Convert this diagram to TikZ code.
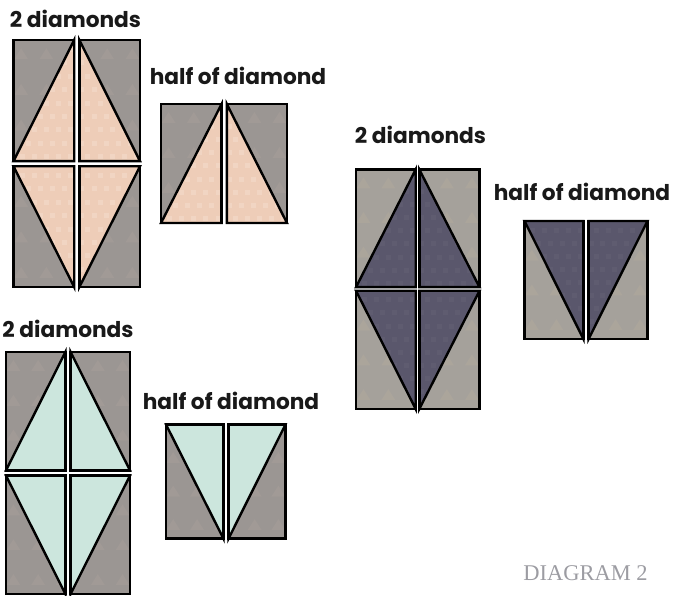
\documentclass[tikz,border=0pt]{standalone}
\usepackage{xcolor}
\usepackage{fontspec}
\setmainfont{Liberation Serif}
\newfontfamily\labelfont{Poppins}
\definecolor{peach}{RGB}{238,205,184}
\definecolor{peachdot}{RGB}{241,213,195}
\definecolor{mint}{RGB}{204,230,221}
\definecolor{mintdot}{RGB}{204,230,221}
\definecolor{ink}{RGB}{90,87,108}
\definecolor{inkdot}{RGB}{95,92,112}
\definecolor{stone}{RGB}{155,150,147}
\definecolor{stonedot}{RGB}{161,154,150}
\definecolor{pebble}{RGB}{165,161,155}
\definecolor{pebbledot}{RGB}{171,165,155}
\definecolor{caption}{RGB}{156,156,162}
% one patch: outer x, inner x, far y, near y, fabric, ground
\newcommand{\patch}[6]{
  \begin{scope}
    \clip (#1,#3) rectangle (#2,#4);
    \fill[#6] (#1,#3) rectangle (#2,#4);
    \foreach \tx in {0,...,3}
      \foreach \ty in {0,...,5}
        \fill[#6dot] ({#1+(#2-#1)*(\tx+0.3)/2.4},{#3+(#4-#3)*(\ty+0.4)/3.4}) ++(-7,5) -- ++(14,0) -- ++(-7,-11) -- cycle;
  \end{scope}
  \begin{scope}
    \clip (#2,#3) -- (#1,#4) -- (#2,#4) -- cycle;
    \fill[#5] (#1,#3) rectangle (#2,#4);
    \foreach \tx in {0,...,5}
      \foreach \ty in {0,...,9}
        \fill[#5dot] ({#1+(#2-#1)*(\tx+0.5+0.5*mod(\ty,2))/5},{#3+(#4-#3)*(\ty+0.5)/9}) rectangle ++(5,5);
  \end{scope}
  \draw[patchline] (#1,#3) rectangle (#2,#4);
  \draw[patchline] (#2,#3) -- (#1,#4) -- (#2,#4) -- cycle;
}
% left, right, top, bottom, middle x, middle y, half gap, fabric, ground
\newcommand{\twodiamonds}[9]{
  \patch{#1}{#5-#7}{#3}{#6-#7}{#8}{#9}
  \patch{#2}{#5+#7}{#3}{#6-#7}{#8}{#9}
  \patch{#1}{#5-#7}{#4}{#6+#7}{#8}{#9}
  \patch{#2}{#5+#7}{#4}{#6+#7}{#8}{#9}
}
% left, right, far y, near y, middle x, half gap, fabric, ground
\newcommand{\halfdiamond}[8]{
  \patch{#1}{#5-#6}{#3}{#4}{#7}{#8}
  \patch{#2}{#5+#6}{#3}{#4}{#7}{#8}
}
\begin{document}
\begin{tikzpicture}[
  x=1pt, y=-1pt,
  patchline/.style={draw=black, line width=2.4pt, line join=miter},
  blocklabel/.style={font=\labelfont\bfseries\fontsize{21.7}{24}\selectfont, inner sep=0pt, text=black!90}
]
\useasboundingbox (0,0) rectangle (673,596);

% Peach blocks
\twodiamonds{13.5}{140}{40}{287}{76.8}{163.7}{2.6}{peach}{stone}
\halfdiamond{161}{287}{104}{223}{224.2}{2.6}{peach}{stone}
\node[blocklabel] (peachtwo) at (75.5,19) {2 diamonds};
\node[blocklabel] (peachhalf) at (238,76) {half of diamond};

% Dark blocks
\twodiamonds{356}{479.5}{169.5}{409}{417.5}{289}{1.8}{ink}{pebble}
\halfdiamond{524.5}{647.5}{339}{221}{586}{2.6}{ink}{pebble}
\node[blocklabel] (inktwo) at (420.5,135) {2 diamonds};
\node[blocklabel] (inkhalf) at (582,192) {half of diamond};

% Mint blocks
\twodiamonds{6}{130}{352}{594}{68}{473}{2.6}{mint}{stone}
\halfdiamond{166}{285.5}{538.5}{424.5}{226}{2.6}{mint}{stone}
\node[blocklabel] (minttwo) at (68,329) {2 diamonds};
\node[blocklabel] (minthalf) at (231,401) {half of diamond};

\node[font=\fontsize{22.5}{26}\selectfont, text=caption, inner sep=0pt] (caption) at (585.5,573) {DIAGRAM 2};
\end{tikzpicture}
\end{document}
